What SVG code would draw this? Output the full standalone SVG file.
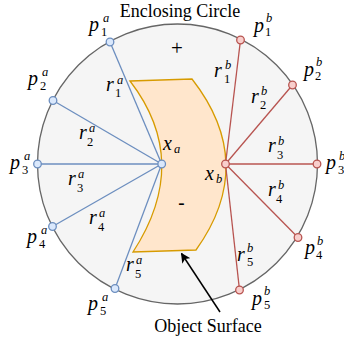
<svg xmlns="http://www.w3.org/2000/svg" width="344" height="341" viewBox="0 0 344 341">
<defs>
<style>
text{font-family:'Liberation Serif','DejaVu Serif',serif;fill:#000}
.t{font-size:18px}
.m{font-style:italic;font-size:20px}
.s{font-style:italic;font-size:12.5px}
.n{font-size:12.5px}
.bl{stroke:#6c8ebf;stroke-width:1.3;fill:none}
.rl{stroke:#b85450;stroke-width:1.3;fill:none}
.bp{fill:#dae8fc;stroke:#6c8ebf;stroke-width:1.3}
.rp{fill:#f8cecc;stroke:#b85450;stroke-width:1.3}
</style>
<marker id="ah" viewBox="0 0 10 10" refX="9" refY="5" markerWidth="10" markerHeight="10" markerUnits="userSpaceOnUse" orient="auto">
<path d="M0,0 L10,5 L0,10 L2.5,5 Z" fill="#000"/>
</marker>
</defs>
<rect width="344" height="341" fill="#fff"/>
<g id="circle">
<circle cx="177.5" cy="164" r="140" fill="#f5f5f5" stroke="#666666" stroke-width="1.3"/>
<text class="t" x="180" y="17" text-anchor="middle">Enclosing Circle</text>
<text x="177" y="55" font-size="21" text-anchor="middle">+</text>
</g>
<g id="object">
<path d="M130,81 L192,79 Q258,163.5 196,250 L133,252 Q192,161.5 130,81 Z" fill="#ffe6cc" stroke="#d79b00" stroke-width="1.3"/>
<text x="181.5" y="209" font-size="19" font-weight="bold" text-anchor="middle">-</text>
</g>
<g id="connectors">
<line class="bl" x1="161.7" y1="164" x2="110" y2="42"/>
<line class="bl" x1="161.7" y1="164" x2="53" y2="100.5"/>
<line class="bl" x1="161.7" y1="164" x2="37.5" y2="164"/>
<line class="bl" x1="161.7" y1="164" x2="52.5" y2="226.5"/>
<line class="bl" x1="161.7" y1="164" x2="115" y2="288.5"/>
<line class="rl" x1="225.5" y1="164" x2="240.5" y2="40"/>
<line class="rl" x1="225.5" y1="164" x2="292.5" y2="85"/>
<line class="rl" x1="225.5" y1="164" x2="317" y2="164"/>
<line class="rl" x1="225.5" y1="164" x2="298" y2="237.5"/>
<line class="rl" x1="225.5" y1="164" x2="239.5" y2="290"/>
<line x1="220" y1="312" x2="181.5" y2="253.5" stroke="#000" stroke-width="1.5" marker-end="url(#ah)"/>
</g>
<g id="xa"><circle class="bp" cx="161.7" cy="164" r="3.8"/>
<text class="m" x="163" y="150">x</text><text class="s" x="174" y="153">a</text></g>
<g id="xb"><circle class="rp" cx="225.5" cy="164" r="3.8"/>
<text class="m" x="205" y="180">x</text><text class="s" x="216" y="183">b</text></g>
<g id="p1a"><circle class="bp" cx="110" cy="42" r="3.8"/>
<text class="m" x="89" y="31">p</text><text class="s" x="103" y="22">a</text><text class="n" x="101" y="36">1</text></g>
<g id="p2a"><circle class="bp" cx="53" cy="100.5" r="3.8"/>
<text class="m" x="28" y="85">p</text><text class="s" x="42" y="76">a</text><text class="n" x="40" y="90">2</text></g>
<g id="p3a"><circle class="bp" cx="37.5" cy="164" r="3.8"/>
<text class="m" x="10" y="169">p</text><text class="s" x="24" y="160">a</text><text class="n" x="22" y="174">3</text></g>
<g id="p4a"><circle class="bp" cx="52.5" cy="226.5" r="3.8"/>
<text class="m" x="27" y="243">p</text><text class="s" x="41" y="234">a</text><text class="n" x="39" y="248">4</text></g>
<g id="p5a"><circle class="bp" cx="115" cy="288.5" r="3.8"/>
<text class="m" x="88" y="310">p</text><text class="s" x="102" y="301">a</text><text class="n" x="100" y="315">5</text></g>
<g id="r1a"><text class="m" x="106" y="91">r</text><text class="s" x="117" y="84">a</text><text class="n" x="115" y="97">1</text></g>
<g id="r2a"><text class="m" x="79" y="139">r</text><text class="s" x="89" y="132">a</text><text class="n" x="87" y="146">2</text></g>
<g id="r3a"><text class="m" x="68" y="185">r</text><text class="s" x="78" y="178">a</text><text class="n" x="77" y="192">3</text></g>
<g id="r4a"><text class="m" x="89" y="224">r</text><text class="s" x="99" y="217">a</text><text class="n" x="98" y="231">4</text></g>
<g id="r5a"><text class="m" x="126" y="271">r</text><text class="s" x="136" y="264">a</text><text class="n" x="135" y="278">5</text></g>
<g id="p1b"><circle class="rp" cx="240.5" cy="40" r="3.8"/>
<text class="m" x="254" y="32">p</text><text class="s" x="266" y="22">b</text><text class="n" x="265" y="36">1</text></g>
<g id="p2b"><circle class="rp" cx="292.5" cy="85" r="3.8"/>
<text class="m" x="304" y="76">p</text><text class="s" x="316" y="66">b</text><text class="n" x="315" y="80">2</text></g>
<g id="p3b"><circle class="rp" cx="317" cy="164" r="3.8"/>
<text class="m" x="326" y="169">p</text><text class="s" x="339" y="160">b</text><text class="n" x="338" y="174">3</text></g>
<g id="p4b"><circle class="rp" cx="298" cy="237.5" r="3.8"/>
<text class="m" x="305" y="254">p</text><text class="s" x="317" y="245">b</text><text class="n" x="316" y="259">4</text></g>
<g id="p5b"><circle class="rp" cx="239.5" cy="290" r="3.8"/>
<text class="m" x="252" y="305">p</text><text class="s" x="264" y="295">b</text><text class="n" x="264" y="309">5</text></g>
<g id="r1b"><text class="m" x="214" y="77">r</text><text class="s" x="225" y="69">b</text><text class="n" x="224" y="83">1</text></g>
<g id="r2b"><text class="m" x="251" y="103">r</text><text class="s" x="261" y="95">b</text><text class="n" x="260" y="109">2</text></g>
<g id="r3b"><text class="m" x="268" y="152">r</text><text class="s" x="278" y="145">b</text><text class="n" x="277" y="159">3</text></g>
<g id="r4b"><text class="m" x="268" y="196">r</text><text class="s" x="278" y="189">b</text><text class="n" x="276" y="203">4</text></g>
<g id="r5b"><text class="m" x="237" y="261">r</text><text class="s" x="247" y="252">b</text><text class="n" x="247" y="266">5</text></g>
<text class="t" x="208" y="332" text-anchor="middle">Object Surface</text>
</svg>
